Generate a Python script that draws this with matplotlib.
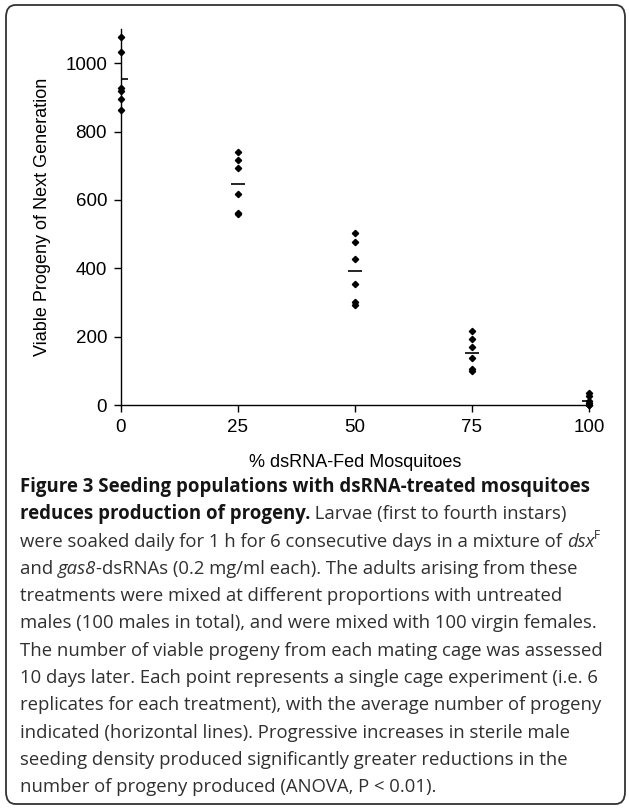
import numpy as np
import matplotlib
matplotlib.use("Agg")
import matplotlib.pyplot as plt
from matplotlib.patches import FancyBboxPatch

# data
pct = [0, 25, 50, 75, 100]
progeny = [
    [1076, 1032, 927, 919, 896, 864],
    [741, 717, 693, 617, 562, 558],
    [502, 478, 427, 354, 300, 292],
    [217, 193, 169, 137, 105, 100],
    [35, 25, 12, 5, 1, 0],
]
yticks = [0, 200, 400, 600, 800, 1000]

W, H = 629, 808
fig = plt.figure(figsize=(W / 100, H / 100), dpi=100)

# rounded frame round figure + caption
frame = FancyBboxPatch((6 / W, 4 / H), 619 / W, 799 / H,
                       boxstyle="round,pad=0,rounding_size=0.015",
                       transform=fig.transFigure, fill=False,
                       edgecolor="#333333", linewidth=1.3)
fig.patches.append(frame)

ax = fig.add_axes([121 / W, 1 - 405 / H, 468 / W, 376 / H])
for x, vals in zip(pct, progeny):
    ax.plot([x] * len(vals), vals, "D", color="black", markersize=3.2,
            clip_on=False, zorder=3)
    ax.plot([x], [np.mean(vals)], "_", color="black", markersize=10,
            markeredgewidth=1.2, zorder=2)

ax.set_xlim(0, 100)
ax.set_ylim(0, 1100)
ax.set_xticks(pct)
ax.set_yticks(yticks)
for s in ["top", "right"]:
    ax.spines[s].set_visible(False)
for s in ["left", "bottom"]:
    ax.spines[s].set_linewidth(1.0)
ax.tick_params(direction="out", length=5, width=1, labelsize=13.5, pad=5)
for lab in ax.get_xticklabels() + ax.get_yticklabels():
    lab.set_family("Liberation Sans")
ax.set_xlabel("% dsRNA-Fed Mosquitoes", fontsize=13, family="Liberation Sans", labelpad=13)
ax.set_ylabel("Viable Progeny of Next Generation", fontsize=13, family="Liberation Sans", labelpad=10)

# caption, drawn chunk by chunk
lines = [
    [("Figure 3 Seeding populations with dsRNA-treated mosquitoes", "b")],
    [("reduces production of progeny.", "b"), (" Larvae (first to fourth instars)", "n")],
    [("were soaked daily for 1 h for 6 consecutive days in a mixture of ", "n"),
     ("dsx", "i"), ("F", "sup")],
    [("and ", "n"), ("gas8", "i"), ("-dsRNAs (0.2 mg/ml each). The adults arising from these", "n")],
    [("treatments were mixed at different proportions with untreated", "n")],
    [("males (100 males in total), and were mixed with 100 virgin females.", "n")],
    [("The number of viable progeny from each mating cage was assessed", "n")],
    [("10 days later. Each point represents a single cage experiment (i.e. 6", "n")],
    [("replicates for each treatment), with the average number of progeny", "n")],
    [("indicated (horizontal lines). Progressive increases in sterile male", "n")],
    [("seeding density produced significantly greater reductions in the", "n")],
    [("number of progeny produced (ANOVA, P < 0.01).", "n")],
]

renderer = fig.canvas.get_renderer()
fs = 13.3


def style_kw(style):
    kw = dict(family="Open Sans", fontsize=fs, color="#303030")
    if style == "b":
        kw["fontweight"] = "bold"
        kw["color"] = "#151515"
        kw["fontsize"] = fs * 1.01
    elif style == "i":
        kw["fontstyle"] = "italic"
    elif style == "sup":
        kw["fontsize"] = fs * 0.65
    return kw


def width_of(txt, style):
    # pad with bars so leading/trailing spaces are counted
    kw = style_kw(style)
    t1 = fig.text(0, 0, "|" + txt + "|", **kw)
    t2 = fig.text(0, 0, "||", **kw)
    w = t1.get_window_extent(renderer).width - t2.get_window_extent(renderer).width
    t1.remove()
    t2.remove()
    return w


y0 = 492
dy = 27.3
for i, chunks in enumerate(lines):
    x = 20
    yb = y0 + i * dy
    for txt, style in chunks:
        yy = yb - 8 if style == "sup" else yb
        fig.text(x / W, 1 - yy / H, txt, va="baseline", ha="left", **style_kw(style))
        x += width_of(txt, style)

fig.savefig("out.png", dpi=100)
